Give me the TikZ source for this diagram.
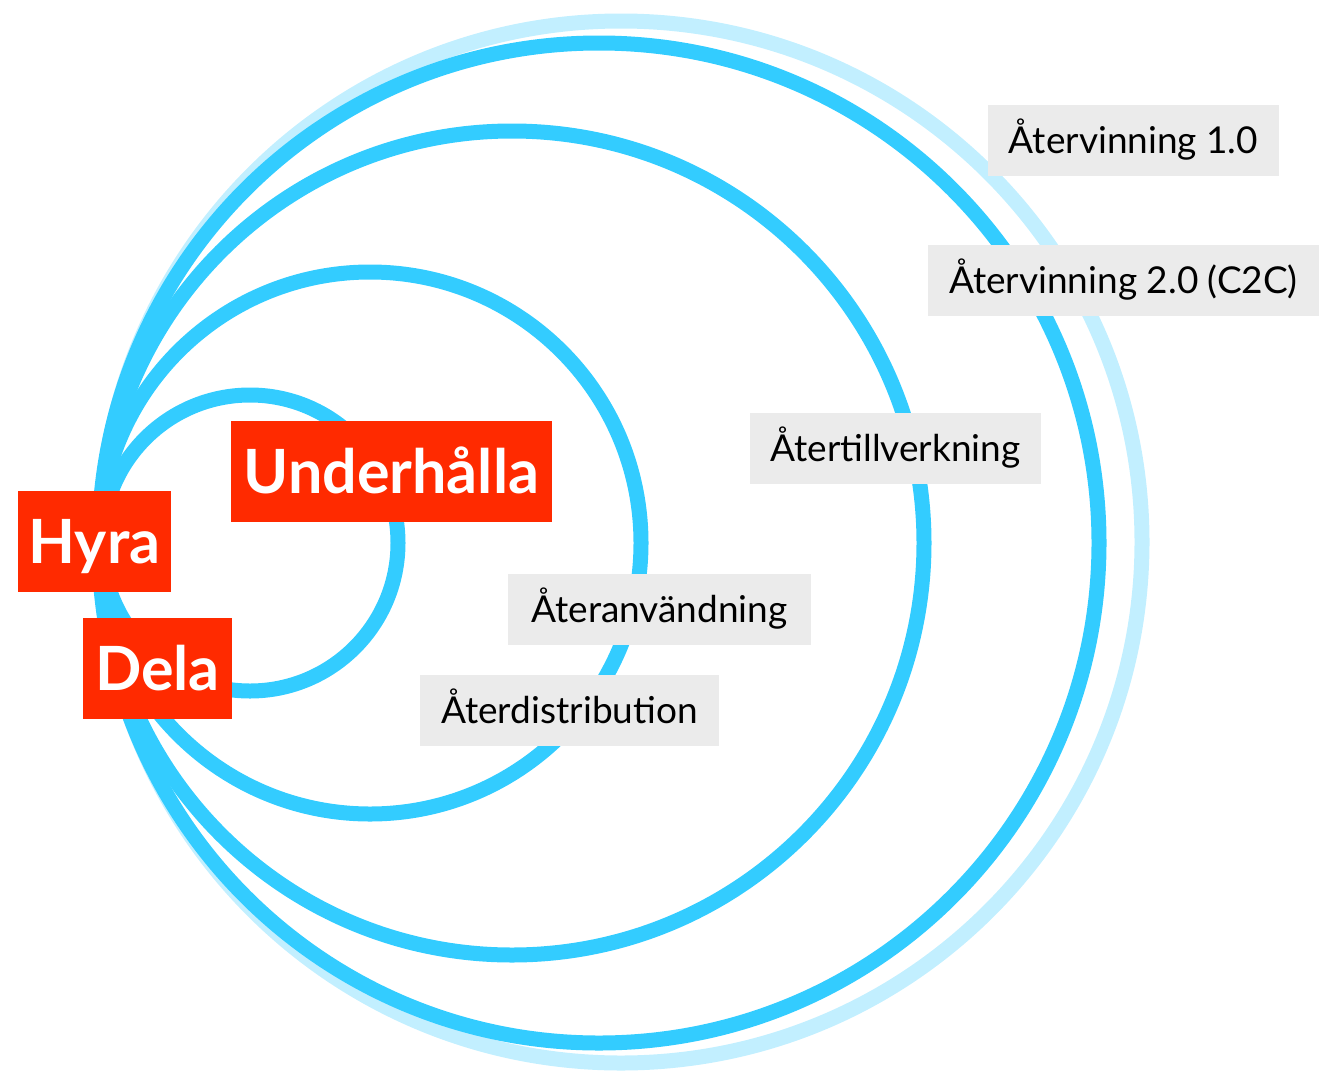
\documentclass[tikz,border=0pt]{standalone}
\usepackage{fontspec}
\setmainfont{Lato}
\definecolor{cdark}{HTML}{33CCFF}
\definecolor{clight}{HTML}{C2EFFF}
\definecolor{cred}{HTML}{FF2A00}
\definecolor{cgray}{HTML}{EBEBEB}
\begin{document}
\begin{tikzpicture}[x=1pt,y=-1pt,
  ring/.style={draw=cdark,line width=15pt},
  lightring/.style={draw=clight,line width=15pt},
  glabel/.style={fill=cgray,inner sep=0pt,minimum height=71pt,font=\fontsize{37}{44}\selectfont,text=black,text height=26.5pt,text depth=0pt},
  rlabel/.style={fill=cred,inner sep=0pt,minimum height=101pt,font=\bfseries\fontsize{61}{73}\selectfont,text=white,text height=43.7pt,text depth=0pt}]
\useasboundingbox (0,0) rectangle (1319,1071);
\draw[lightring] (621,542) circle[radius=521pt];
\draw[ring] (599,543) circle[radius=500pt];
\draw[ring] (512,543) circle[radius=412pt];
\draw[ring] (370,543) circle[radius=271pt];
\draw[ring] (250,543) circle[radius=148pt];
\node[glabel,minimum width=291pt] (atv1) at (1133.5,140.5) {Återvinning 1.0};
\node[glabel,minimum width=391pt] (atv2) at (1123.5,280.5) {Återvinning 2.0 (C2C)};
\node[glabel,minimum width=291pt] (atill) at (895.5,448.5) {Återtillverkning};
\node[glabel,minimum width=303pt] (atanv) at (659.5,609.5) {Återanvändning};
\node[glabel,minimum width=299pt] (atdist) at (569.5,710.5) {Återdistribution};
\node[rlabel,minimum width=321pt] (under) at (391.5,471.5) {Underhålla};
\node[rlabel,minimum width=153pt] (hyra) at (94.5,541.5) {Hyra};
\node[rlabel,minimum width=149pt] (dela) at (157.5,668.5) {Dela};
\end{tikzpicture}
\end{document}
